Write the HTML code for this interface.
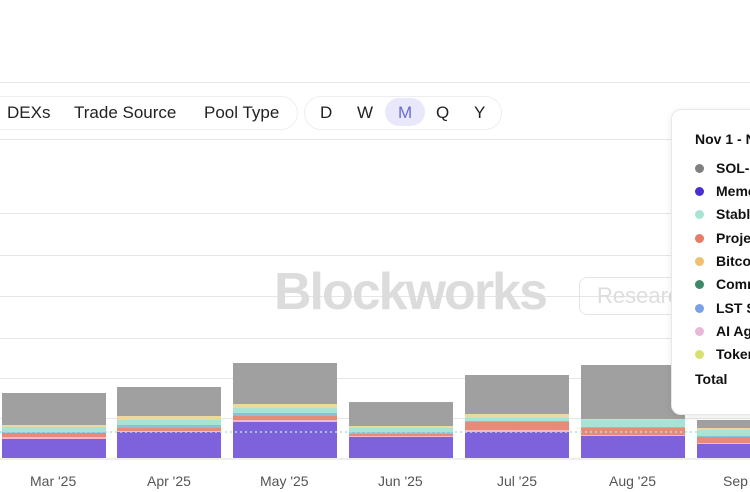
<!DOCTYPE html>
<html><head><style>
html,body{margin:0;width:750px;height:492px;overflow:hidden}
body{background:#fff;font-family:"Liberation Sans",sans-serif;position:relative}
div{white-space:nowrap}
.a{position:absolute}
.grid{position:absolute;left:0;width:750px;height:1px;background:#e6e6e6}
.pill{position:absolute;border:1px solid #eee;border-radius:18px;height:32px;top:96px}
.t{position:absolute;top:103px;font-size:17px;color:#222}
.lab{position:absolute;top:473px;font-size:14px;color:#555}
.lg{position:absolute;left:695px;font-size:14px;font-weight:bold;color:#111}
.dot{position:absolute;left:695px;width:9px;height:9px;border-radius:50%}
</style></head><body>
<div class="grid" style="top:82px"></div>
<div class="pill" style="left:-20px;width:316px"></div>
<div class="pill" style="left:304px;width:196px"></div>
<div class="t" style="left:7px">DEXs</div>
<div class="t" style="left:74px">Trade Source</div>
<div class="t" style="left:204px">Pool Type</div>
<div class="a" style="left:385px;top:98px;width:40px;height:28px;border-radius:14px;background:#e8e8fa"></div>
<div class="t" style="left:320px">D</div>
<div class="t" style="left:357px">W</div>
<div class="t" style="left:398px;color:#6b6bd0">M</div>
<div class="t" style="left:436px">Q</div>
<div class="t" style="left:474px">Y</div>
<div class="grid" style="top:139px"></div>
<div class="grid" style="top:213px"></div>
<div class="grid" style="top:255px"></div>
<div class="grid" style="top:296px"></div>
<div class="grid" style="top:338px"></div>
<div class="grid" style="top:378px"></div>
<div class="grid" style="top:418px"></div>
<div class="a" style="left:274px;top:262px;font-size:52px;font-weight:bold;color:#dcdcdc;letter-spacing:-2px">Blockworks</div>
<div class="a" style="left:579px;top:277px;width:120px;height:36px;border:1px solid #e4e4e4;border-radius:8px"></div>
<div class="a" style="left:597px;top:283px;font-size:22px;color:#ddd">Research</div>
<svg class="a" style="left:0;top:0" width="750" height="492">
<g id="bars"></g>
<line x1="0" y1="432" x2="750" y2="432" stroke="#b8dcd8" stroke-dasharray="2,3" stroke-width="1.5"/>
<line x1="0" y1="459" x2="750" y2="459" stroke="#ddd"/>
</svg>
<script>
var d=[[2,393,425,427,432,433,437,439],[117,387,416,420,425,428,431,432],[233,363,404,408,413,416,420,422],[349,402,426,428,432,434,436,437],[465,375,414,418,421,422,430,432],[581,365,419,420,427,428,435,436],[697,420,428,430,436,437,443,444]];
var c=["#a0a0a0","#ecd9a0","#a9e3d3","#8ac0d8","#e88a78","#f3b7c8","#7e62dc"];
var s="";d.forEach(function(b){var x=b[0];for(var i=0;i<7;i++){var y1=b[i+1],y2=i<6?b[i+2]:458;if(y2>y1)s+='<rect x="'+x+'" y="'+y1+'" width="104" height="'+(y2-y1)+'" fill="'+c[i]+'"/>';}});
document.getElementById("bars").innerHTML=s;
</script>
<div class="lab" style="left:30px">Mar '25</div>
<div class="lab" style="left:147px">Apr '25</div>
<div class="lab" style="left:260px">May '25</div>
<div class="lab" style="left:378px">Jun '25</div>
<div class="lab" style="left:497px">Jul '25</div>
<div class="lab" style="left:609px">Aug '25</div>
<div class="lab" style="left:723px">Sep '25</div>
<div class="a" style="left:671px;top:109px;width:110px;height:304px;background:#fff;border:1px solid #e8e8e8;border-radius:10px;box-shadow:0 2px 8px rgba(0,0,0,0.08)"></div>
<div class="lg" style="top:131px">Nov 1 - Nov 30</div>
<div class="dot" style="top:164px;background:#808080"></div><div class="lg" style="left:716px;top:160px">SOL-USD</div>
<div class="dot" style="top:187px;background:#4a2fd0"></div><div class="lg" style="left:716px;top:183px">Memecoins</div>
<div class="dot" style="top:210px;background:#a9e3d3"></div><div class="lg" style="left:716px;top:206px">Stablecoins</div>
<div class="dot" style="top:234px;background:#e87a68"></div><div class="lg" style="left:716px;top:230px">Projects</div>
<div class="dot" style="top:257px;background:#eec070"></div><div class="lg" style="left:716px;top:253px">Bitcoin</div>
<div class="dot" style="top:280px;background:#3e8a68"></div><div class="lg" style="left:716px;top:276px">Commodities</div>
<div class="dot" style="top:304px;background:#7aa0e8"></div><div class="lg" style="left:716px;top:300px">LST SOL</div>
<div class="dot" style="top:327px;background:#e8b8d8"></div><div class="lg" style="left:716px;top:323px">AI Agents</div>
<div class="dot" style="top:350px;background:#d8e070"></div><div class="lg" style="left:716px;top:346px">Tokenized</div>
<div class="lg" style="top:371px">Total</div>
</body></html>
